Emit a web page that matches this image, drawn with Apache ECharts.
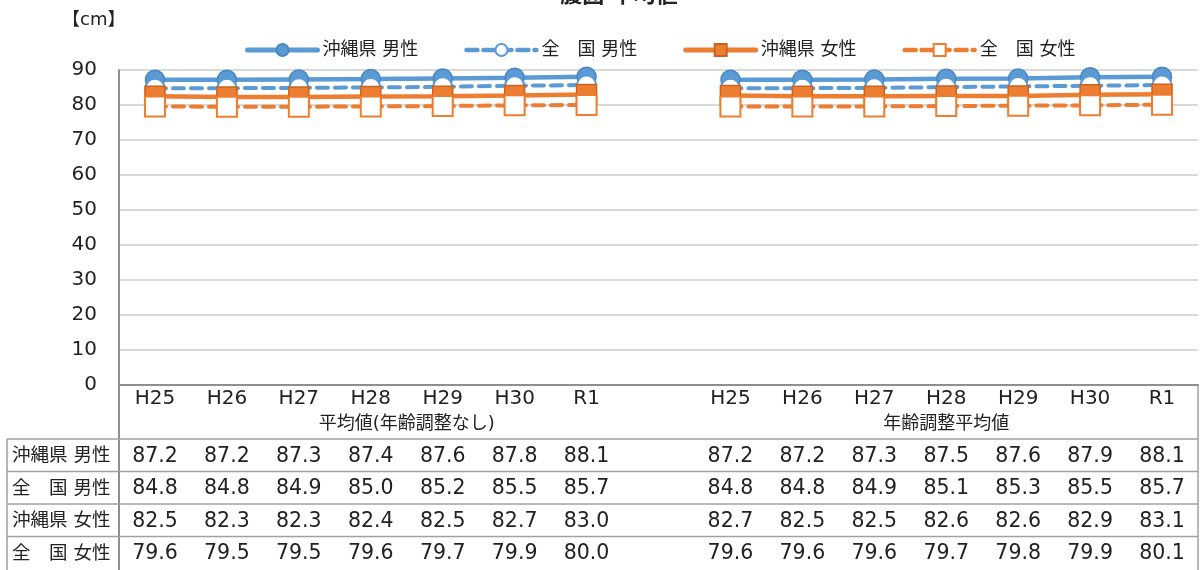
<!DOCTYPE html>
<html><head><meta charset="utf-8">
<script src="https://cdn.jsdelivr.net/npm/echarts@6/dist/echarts.min.js"></script>
<style>html,body{margin:0;padding:0;background:#fff}#c{width:1204px;height:570px}</style>
</head><body><div id="c"></div>
<script>
// ---- data ----
const titleText = '腹囲 平均値';
const unitText = '【cm】';
const years = ['H25','H26','H27','H28','H29','H30','R1'];
const groupLabels = ['平均値(年齢調整なし)','年齢調整平均値'];
const seriesNames = ['沖縄県 男性','全　国 男性','沖縄県 女性','全　国 女性'];
const okiMaleRaw    = [87.2,87.2,87.3,87.4,87.6,87.8,88.1];
const natMaleRaw    = [84.8,84.8,84.9,85.0,85.2,85.5,85.7];
const okiFemaleRaw  = [82.5,82.3,82.3,82.4,82.5,82.7,83.0];
const natFemaleRaw  = [79.6,79.5,79.5,79.6,79.7,79.9,80.0];
const okiMaleAdj    = [87.2,87.2,87.3,87.5,87.6,87.9,88.1];
const natMaleAdj    = [84.8,84.8,84.9,85.1,85.3,85.5,85.7];
const okiFemaleAdj  = [82.7,82.5,82.5,82.6,82.6,82.9,83.1];
const natFemaleAdj  = [79.6,79.6,79.6,79.7,79.8,79.9,80.1];
const yMin = 0, yMax = 90, yStep = 10;

// ---- build ----
const FONT = '"DejaVu Sans","Noto Sans CJK JP",sans-serif';
const TXT = '#222';
const BLUE = '#5B9BD5', ORANGE = '#ED7D31';
const cats = [...years, '', ...years];
const join = (a, b) => [...a, null, ...b];
const rows = [
  join(okiMaleRaw, okiMaleAdj),
  join(natMaleRaw, natMaleAdj),
  join(okiFemaleRaw, okiFemaleAdj),
  join(natFemaleRaw, natFemaleAdj)
];
const styles = [
  {symbol:'circle', size:19, color:BLUE, border:'#4A86C0', type:'solid'},
  {symbol:'emptyCircle', size:19, color:BLUE, border:BLUE, type:'dashed'},
  {symbol:'rect', size:20, color:ORANGE, border:'#C9631F', type:'solid'},
  {symbol:'emptyRect', size:20, color:ORANGE, border:ORANGE, type:'dashed'}
];
const lineStyleOf = s => ({color: s.color, width: s.type === 'solid' ? 4.5 : 4, type: s.type === 'solid' ? 'solid' : [11, 7], cap: 'round'});

const chart = echarts.init(document.getElementById('c'), null, {renderer:'canvas'});
const series = rows.map((d, i) => {
  const s = styles[i];
  return {
    name: seriesNames[i], type:'line', data:d, connectNulls:false,
    symbol: s.symbol, symbolSize: s.size, showAllSymbol:true,
    itemStyle: s.symbol.indexOf('empty') === 0
      ? {color: s.color, borderColor: s.border, borderWidth: 2}
      : {color: s.color, borderColor: s.border, borderWidth: 1.5},
    lineStyle: lineStyleOf(s),
    emphasis: {disabled:true}, animation:false
  };
});

chart.setOption({
  animation:false,
  textStyle:{fontFamily:FONT},
  grid:{left:119, right:6, top:70, bottom:185, containLabel:false},
  legend:{
    left:240, top:36, itemWidth:70, itemHeight:15, itemGap:46,
    textStyle:{fontSize:18, color:TXT, fontFamily:FONT},
    data: seriesNames.map((n, i) => ({name:n, lineStyle:{width: styles[i].type === 'solid' ? 5 : 4.5, type: styles[i].type === 'solid' ? 'solid' : [11, 6], cap:'round'}}))
  },
  xAxis:{
    type:'category', data:cats, boundaryGap:true,
    axisLine:{show:true, lineStyle:{color:'#8f8f8f', width:2}},
    axisTick:{show:false},
    axisLabel:{fontSize:20, color:TXT, margin:4, interval:0, fontFamily:FONT}
  },
  yAxis:{
    type:'value', min:yMin, max:yMax, interval:yStep,
    axisLine:{show:true, lineStyle:{color:'#8f8f8f', width:2}},
    axisTick:{show:false},
    splitLine:{lineStyle:{color:'#d9d9d9', width:2}},
    axisLabel:{fontSize:20, color:TXT, margin:22, fontFamily:FONT}
  },
  series: series
});

// ---- table & texts ----
const px = i => chart.convertToPixel({xAxisIndex:0}, i);
const g = [];
const LC = '#a0a0a0';
const tableTop = 439, rowH = 32.5, left = 7, right = 1198, axisX = 119, axisY = 385;
g.push({type:'text', x:619, y:-15, style:{text:titleText, font:'bold 22px '+FONT, fill:TXT, align:'center', verticalAlign:'top'}});
g.push({type:'text', x:62, y:20, style:{text:unitText, font:'18px '+FONT, fill:TXT, align:'left', verticalAlign:'middle'}});
// group labels
g.push({type:'text', x:(px(0)+px(7))/2, y:424, style:{text:groupLabels[0], font:'18px '+FONT, fill:TXT, align:'center', verticalAlign:'middle'}});
g.push({type:'text', x:(px(8)+px(14))/2, y:424, style:{text:groupLabels[1], font:'18px '+FONT, fill:TXT, align:'center', verticalAlign:'middle'}});
// lines
const line = (x1,y1,x2,y2,c,w) => g.push({type:'line', shape:{x1,y1,x2,y2}, style:{stroke:c||LC, lineWidth:w||1.5}, silent:true});
line(axisX, axisY, axisX, 570, '#8f8f8f', 2);
line(left, tableTop, left, 570);
line(right, axisY, right, 570);
for (let r = 0; r < 4; r++) line(left, tableTop + r*rowH, right, tableTop + r*rowH);
// rows
rows.forEach((d, r) => {
  const yc = tableTop + r*rowH + rowH/2 + 1;
  g.push({type:'text', x:12, y:yc, style:{text:seriesNames[r], font:'18.5px '+FONT, fill:TXT, align:'left', verticalAlign:'middle'}});
  d.forEach((v, i) => {
    if (v === null) return;
    g.push({type:'text', x:px(i), y:yc, style:{text:v.toFixed(1), font:'20.5px '+FONT, fill:TXT, align:'center', verticalAlign:'middle'}});
  });
});
chart.setOption({graphic:{elements:g}});
</script>
</body></html>
